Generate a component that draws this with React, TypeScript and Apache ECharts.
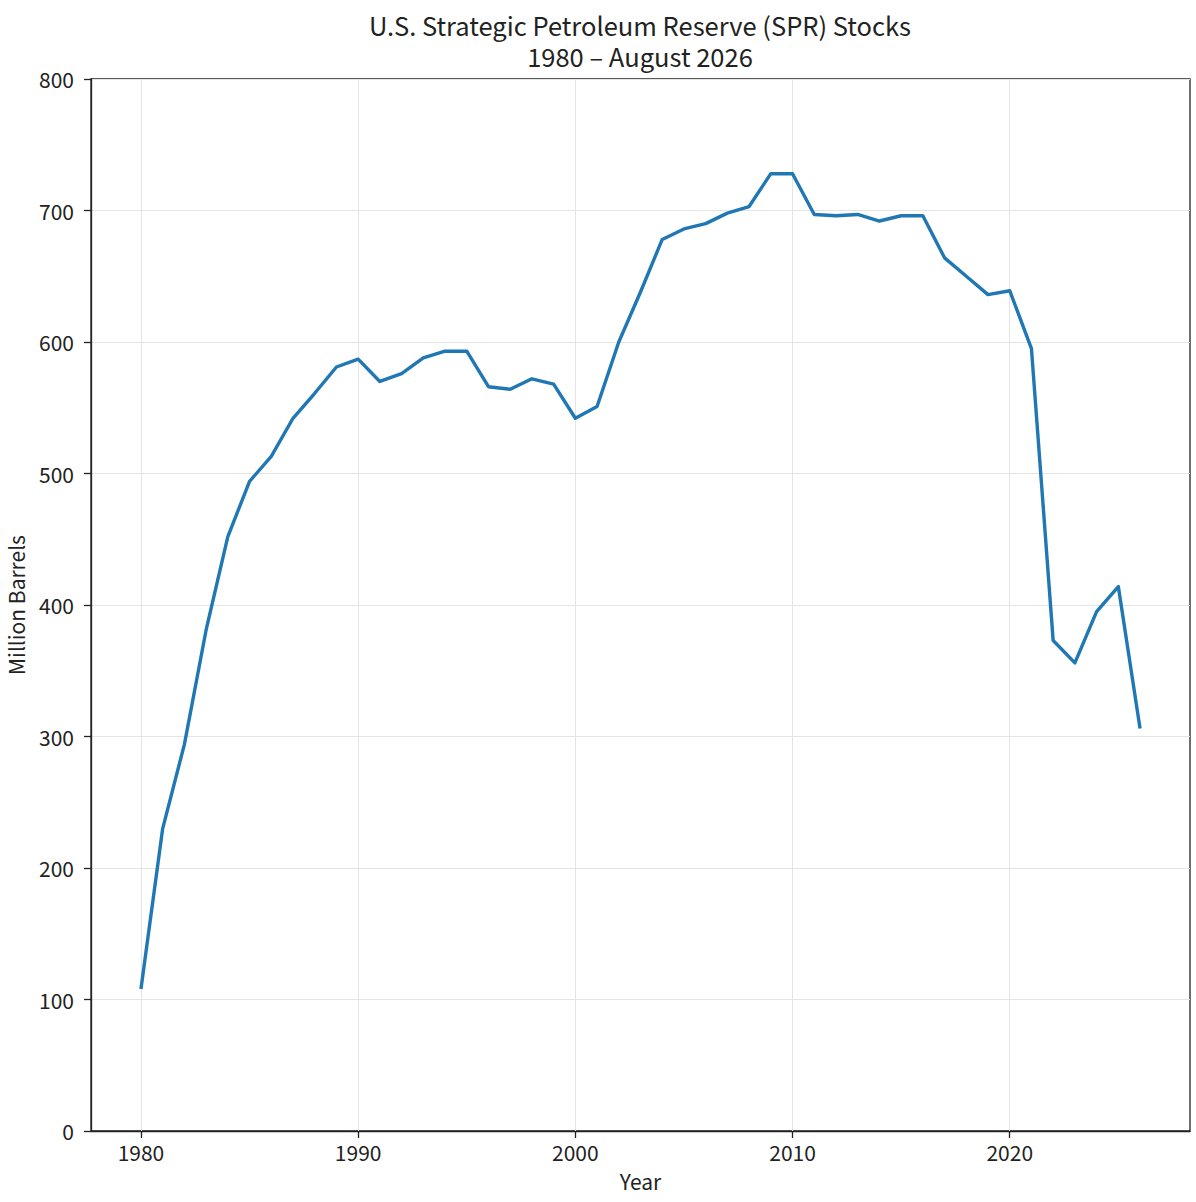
import React, { useEffect, useRef } from "react";
import * as echarts from "echarts";

const years = [
  1980, 1981, 1982, 1983, 1984, 1985, 1986, 1987, 1988, 1989,
  1990, 1991, 1992, 1993, 1994, 1995, 1996, 1997, 1998, 1999,
  2000, 2001, 2002, 2003, 2004, 2005, 2006, 2007, 2008, 2009,
  2010, 2011, 2012, 2013, 2014, 2015, 2016, 2017, 2018, 2019,
  2020, 2021, 2022, 2023, 2024, 2025, 2026,
];
const stocks = [
  108, 230, 294, 381, 452, 494, 513, 542, 561, 581,
  587, 570, 576, 588, 593, 593, 566, 564, 572, 568,
  542, 551, 600, 638, 678, 686, 690, 698, 703, 728,
  728, 697, 696, 697, 692, 696, 696, 664, 650, 636,
  639, 595, 373, 356, 395, 414, 306,
];
const xTicks = [1980, 1990, 2000, 2010, 2020];
const titleLine1 = "U.S. Strategic Petroleum Reserve (SPR) Stocks";
const titleLine2 = "1980 – August 2026";

const FONT = "Noto Sans CJK JP";
const TXT = "#222222";
const GRID = "#e4e4e4";

const titleStyle = {
  fontFamily: FONT,
  fontSize: 25.5,
  fontWeight: "normal",
  color: TXT,
  lineHeight: 30,
};

export default function App() {
  const ref = useRef<HTMLDivElement>(null);
  useEffect(() => {
    if (!ref.current) return;
    const chart = echarts.init(ref.current, null, { renderer: "svg" });
    chart.setOption({
      animation: false,
      backgroundColor: "#ffffff",
      textStyle: { fontFamily: FONT, color: TXT },
      title: [
        { text: titleLine1, left: 635, top: 4, textAlign: "center", textStyle: titleStyle },
        { text: titleLine2, left: 635, top: 35, textAlign: "center", textStyle: titleStyle },
      ],
      grid: {
        left: 91,
        right: 6,
        top: 79,
        bottom: 71,
        outerBoundsMode: "none",
        containLabel: false,
        show: true,
        borderColor: TXT,
        borderWidth: 1.3,
        backgroundColor: "transparent",
      },
      xAxis: {
        type: "value",
        min: 1977.7,
        max: 2028.3,
        name: "Year",
        nameLocation: "middle",
        nameGap: 39,
        nameTextStyle: { fontFamily: FONT, fontSize: 21, color: TXT },
        axisLine: { show: true, onZero: false, lineStyle: { color: TXT, width: 1.3 } },
        axisTick: { show: true, inside: false, length: 7, customValues: xTicks, lineStyle: { color: TXT, width: 1.3 } },
        axisLabel: {
          customValues: xTicks,
          margin: 10,
          fontFamily: FONT,
          fontSize: 21,
          color: TXT,
          formatter: (v: number) => String(v),
        },
        splitLine: { show: false },
      },
      yAxis: {
        type: "value",
        min: 0,
        max: 800,
        interval: 100,
        name: "Million Barrels",
        nameLocation: "middle",
        nameGap: 65,
        nameRotate: 90,
        nameTextStyle: { fontFamily: FONT, fontSize: 21, color: TXT },
        axisLine: { show: true, lineStyle: { color: TXT, width: 1.3 } },
        axisTick: { show: true, inside: false, length: 7, lineStyle: { color: TXT, width: 1.3 } },
        axisLabel: { margin: 17, fontFamily: FONT, fontSize: 21, color: TXT },
        splitLine: { show: true, lineStyle: { color: GRID, width: 1 } },
      },
      series: [
        {
          type: "line",
          data: [],
          silent: true,
          z: 1,
          markLine: {
            silent: true,
            z: 1,
            symbol: ["none", "none"],
            label: { show: false },
            lineStyle: { color: GRID, width: 1, type: "solid" },
            data: xTicks.map((t) => ({ xAxis: t })),
          },
        },
        {
          type: "line",
          z: 6,
          data: years.map((y, i) => [y, stocks[i]]),
          showSymbol: false,
          symbol: "none",
          lineStyle: { color: "#1f77b4", width: 3.4, join: "round" },
          itemStyle: { color: "#1f77b4" },
        },
      ],
    });
    return () => chart.dispose();
  }, []);
  return (
    <div
      ref={ref}
      style={{ position: "fixed", left: 0, top: 0, width: 1196, height: 1202, background: "#fff" }}
    />
  );
}
